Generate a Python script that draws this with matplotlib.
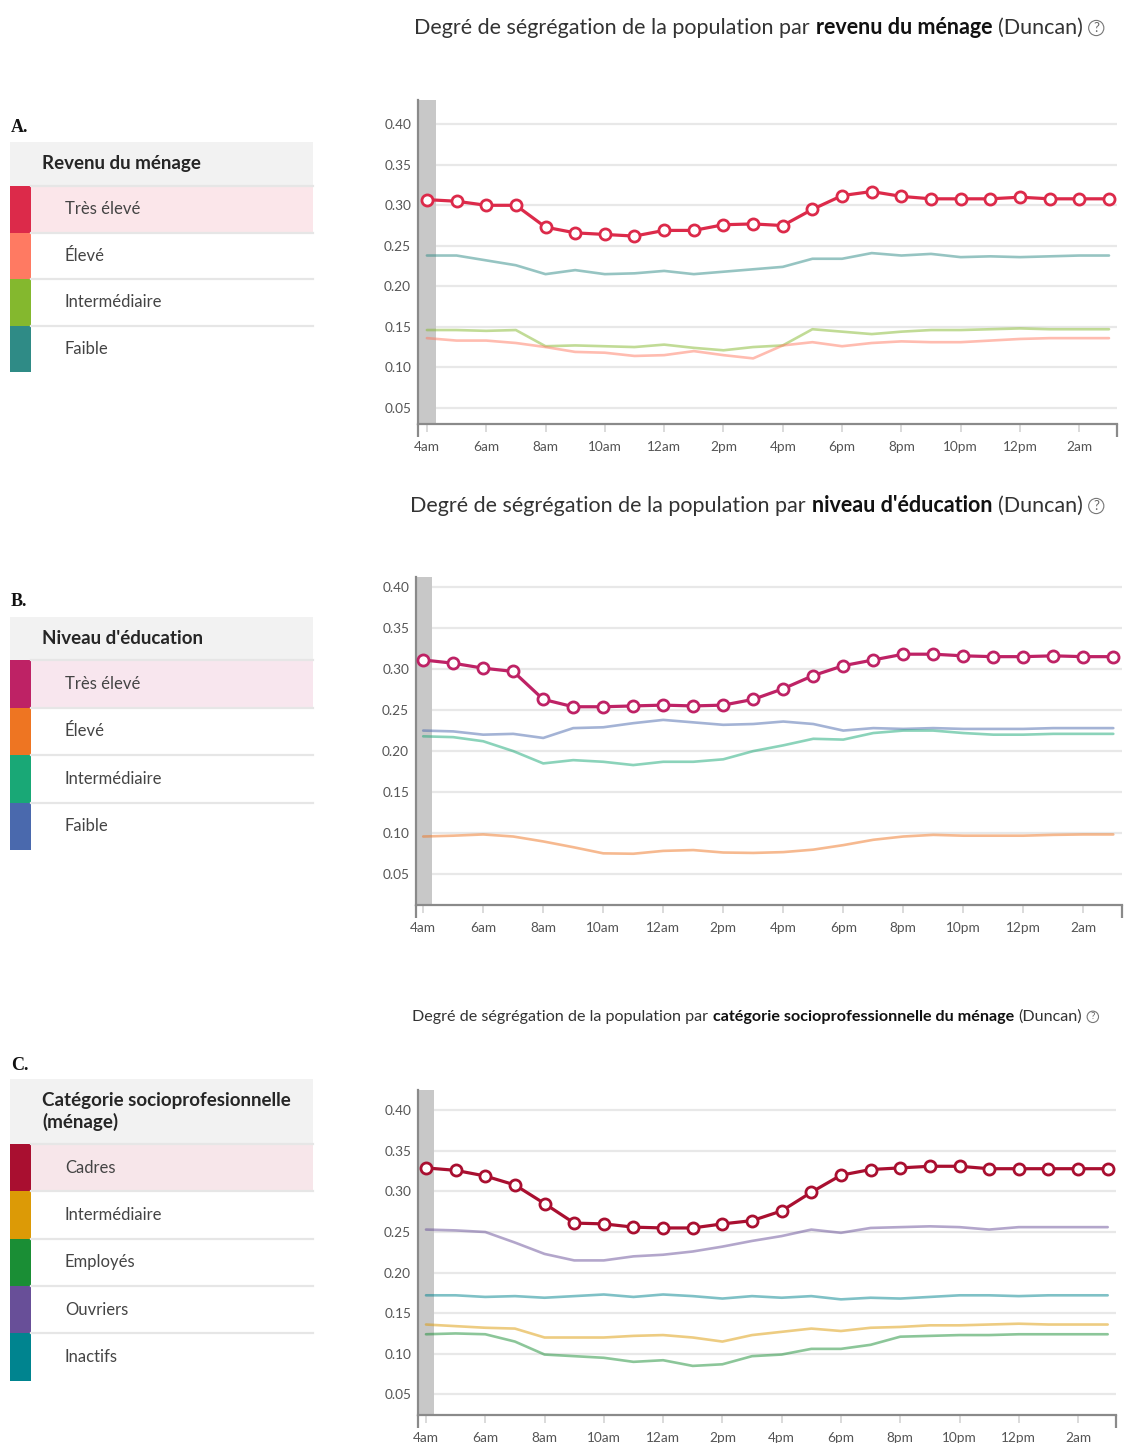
import numpy as np
import matplotlib
matplotlib.use("Agg")
import matplotlib.pyplot as plt
from matplotlib.patches import Rectangle

plt.rcParams['font.family'] = ['Lato', 'DejaVu Sans']

W, H = 1137, 1443

# Données (une valeur par heure, 4am -> 3am)
hours = np.arange(24)
tick_pos = np.arange(0, 24, 2)
tick_labels = ['4am', '6am', '8am', '10am', '12am', '2pm', '4pm', '6pm', '8pm', '10pm', '12pm', '2am']
y_ticks = [0.05, 0.10, 0.15, 0.20, 0.25, 0.30, 0.35, 0.40]

# A. Revenu du ménage
a_labels = ['Très élevé', 'Élevé', 'Intermédiaire', 'Faible']
a_colors = ['#dc2a4a', '#ff7a62', '#84b82e', '#2f8b86']
a_tres_eleve = [0.307, 0.305, 0.300, 0.300, 0.273, 0.266, 0.264, 0.262, 0.269, 0.269, 0.276, 0.277,
                0.275, 0.295, 0.312, 0.317, 0.311, 0.308, 0.308, 0.308, 0.310, 0.308, 0.308, 0.308]
a_eleve = [0.136, 0.133, 0.133, 0.130, 0.125, 0.119, 0.118, 0.114, 0.115, 0.120, 0.115, 0.111,
           0.127, 0.131, 0.126, 0.130, 0.132, 0.131, 0.131, 0.133, 0.135, 0.136, 0.136, 0.136]
a_inter = [0.146, 0.146, 0.145, 0.146, 0.126, 0.127, 0.126, 0.125, 0.128, 0.124, 0.121, 0.125,
           0.127, 0.147, 0.144, 0.141, 0.144, 0.146, 0.146, 0.147, 0.148, 0.147, 0.147, 0.147]
a_faible = [0.238, 0.238, 0.232, 0.226, 0.215, 0.220, 0.215, 0.216, 0.219, 0.215, 0.218, 0.221,
            0.224, 0.234, 0.234, 0.241, 0.238, 0.240, 0.236, 0.237, 0.236, 0.237, 0.238, 0.238]

# B. Niveau d'éducation
b_labels = ['Très élevé', 'Élevé', 'Intermédiaire', 'Faible']
b_colors = ['#be2265', '#ee7522', '#19a876', '#4a69ad']
b_tres_eleve = [0.311, 0.307, 0.301, 0.297, 0.263, 0.254, 0.254, 0.255, 0.256, 0.255, 0.256, 0.263,
                0.276, 0.292, 0.304, 0.311, 0.318, 0.318, 0.316, 0.315, 0.315, 0.316, 0.315, 0.315]
b_eleve = [0.096, 0.097, 0.0985, 0.096, 0.090, 0.083, 0.0755, 0.075, 0.0785, 0.0795, 0.0765, 0.076,
           0.077, 0.080, 0.0855, 0.092, 0.096, 0.098, 0.097, 0.097, 0.097, 0.098, 0.0985, 0.0985]
b_inter = [0.218, 0.217, 0.212, 0.200, 0.185, 0.189, 0.187, 0.183, 0.187, 0.187, 0.190, 0.200,
           0.207, 0.215, 0.214, 0.222, 0.225, 0.225, 0.222, 0.220, 0.220, 0.221, 0.221, 0.221]
b_faible = [0.225, 0.224, 0.220, 0.221, 0.216, 0.228, 0.229, 0.234, 0.238, 0.235, 0.232, 0.233,
            0.236, 0.233, 0.225, 0.228, 0.227, 0.228, 0.227, 0.227, 0.227, 0.228, 0.228, 0.228]

# C. Catégorie socioprofessionnelle
c_labels = ['Cadres', 'Intermédiaire', 'Employés', 'Ouvriers', 'Inactifs']
c_colors = ['#a90f30', '#dc9a06', '#1a8e35', '#684f98', '#00848f']
c_cadres = [0.329, 0.326, 0.319, 0.308, 0.285, 0.261, 0.260, 0.256, 0.255, 0.255, 0.260, 0.264,
            0.276, 0.299, 0.320, 0.327, 0.329, 0.331, 0.331, 0.328, 0.328, 0.328, 0.328, 0.328]
c_inter = [0.136, 0.134, 0.132, 0.131, 0.120, 0.120, 0.120, 0.122, 0.123, 0.120, 0.115, 0.123,
           0.127, 0.131, 0.128, 0.132, 0.133, 0.135, 0.135, 0.136, 0.137, 0.136, 0.136, 0.136]
c_employes = [0.124, 0.125, 0.124, 0.115, 0.099, 0.097, 0.095, 0.090, 0.092, 0.085, 0.087, 0.097,
              0.099, 0.106, 0.106, 0.111, 0.121, 0.122, 0.123, 0.123, 0.124, 0.124, 0.124, 0.124]
c_ouvriers = [0.253, 0.252, 0.250, 0.237, 0.223, 0.215, 0.215, 0.220, 0.222, 0.226, 0.232, 0.239,
              0.245, 0.253, 0.249, 0.255, 0.256, 0.257, 0.256, 0.253, 0.256, 0.256, 0.256, 0.256]
c_inactifs = [0.172, 0.172, 0.170, 0.171, 0.169, 0.171, 0.173, 0.170, 0.173, 0.171, 0.168, 0.171,
              0.169, 0.171, 0.167, 0.169, 0.168, 0.170, 0.172, 0.172, 0.171, 0.172, 0.172, 0.172]


fig = plt.figure(figsize=(W / 100, H / 100), dpi=100)
bg = fig.add_axes([0, 0, 1, 1])
bg.set_xlim(0, W)
bg.set_ylim(H, 0)
bg.axis('off')


def px_axes(left, top, right, bottom):
    return fig.add_axes([left / W, 1 - bottom / H, (right - left) / W, (bottom - top) / H])


def rich_title(x, y, parts, size):
    prev = bg.text(x, y, parts[0][0], fontsize=size, fontweight=parts[0][1],
                   color='#333333', va='center', ha='left')
    gap = 0.28 * size
    for txt, weight in parts[1:]:
        prev = bg.annotate(txt, xy=(1, 0), xycoords=prev, xytext=(gap, 0),
                           textcoords='offset points', va='bottom', ha='left',
                           fontsize=size, fontweight=weight,
                           color='#111111' if weight == 'bold' else '#333333')
    bg.annotate('?', xy=(1, 0.5), xycoords=prev, xytext=(gap + 3, 0),
                textcoords='offset points', va='center', ha='left',
                fontsize=size * 0.62, color='#666666',
                bbox=dict(boxstyle='circle,pad=0.12', fc='none', ec='#777777', lw=0.8))


def legend_table(letter, letter_y, top, header_lines, header_h, row_h, labels, colors, hl):
    bg.text(11, letter_y, letter, fontsize=13, fontweight='bold',
            family='Liberation Serif', color='#111111', va='center', ha='left')
    bg.add_patch(Rectangle((10, top), 303, header_h, fc='#f2f2f2', ec='none'))
    bg.text(42, top + header_h / 2, "\n".join(header_lines), fontsize=13.5, fontweight='bold',
            color='#262626', va='center', ha='left', linespacing=1.3)
    y0 = top + header_h
    for i, (lab, col) in enumerate(zip(labels, colors)):
        ry = y0 + i * row_h
        if i == 0:
            bg.add_patch(Rectangle((31, ry), 282, row_h, fc=hl, ec='none'))
        bg.add_patch(Rectangle((10, ry), 21, row_h, fc=col, ec='none'))
        bg.plot([31, 313], [ry, ry], color='#e6e6e6', lw=1.6)
        bg.text(65, ry + row_h / 2, lab, fontsize=12, color='#444444',
                va='center', ha='left')


def chart(rect, xlim, ylim, band_end, main, main_color, others):
    ax = px_axes(*rect)
    ax.set_xlim(*xlim)
    ax.set_ylim(*ylim)
    ax.axvspan(xlim[0], band_end, color='#c8c8c8', lw=0, zorder=1)
    for vals, col in others:
        ax.plot(hours, vals, color=col, lw=1.9, alpha=0.5, zorder=2,
                solid_joinstyle='round', solid_capstyle='round')
    ax.plot(hours, main, color=main_color, lw=2.3, zorder=3, marker='o', ms=8,
            mfc='white', mec=main_color, mew=2.0)
    ax.set_yticks(y_ticks)
    ax.set_yticklabels([f"{v:.2f}" for v in y_ticks])
    ax.set_xticks(tick_pos)
    ax.set_xticklabels(tick_labels)
    ax.set_xticks([xlim[0], xlim[1]], minor=True)
    ax.yaxis.grid(True, color='#e8e8e8', lw=1.6)
    ax.set_axisbelow(True)
    for s in ['top', 'right']:
        ax.spines[s].set_visible(False)
    for s in ['left', 'bottom']:
        ax.spines[s].set_color('#8a8a8a')
        ax.spines[s].set_linewidth(1.6)
    ax.tick_params(axis='y', length=0, pad=5, labelsize=9.8, labelcolor='#555555')
    ax.tick_params(axis='x', which='major', length=6, width=1.2, color='#d4d4d4',
                   pad=6, labelsize=9.8, labelcolor='#555555')
    ax.tick_params(axis='x', which='minor', length=9, width=1.6, color='#8a8a8a')
    return ax


# Titres
rich_title(414, 28, [('Degré de ségrégation de la population par', 'normal'),
                     ('revenu du ménage', 'bold'), ('(Duncan)', 'normal')], 15.5)
rich_title(410, 506, [('Degré de ségrégation de la population par', 'normal'),
                      ("niveau d'éducation", 'bold'), ('(Duncan)', 'normal')], 15.5)
rich_title(412, 1017, [('Degré de ségrégation de la population par', 'normal'),
                       ('catégorie socioprofessionnelle du ménage', 'bold'),
                       ('(Duncan)', 'normal')], 11.6)

# Tableaux de légende
legend_table('A.', 127, 142, ['Revenu du ménage'], 44, 46.5, a_labels, a_colors, '#fbe6ea')
legend_table('B.', 602, 617, ["Niveau d'éducation"], 43, 47.5, b_labels, b_colors, '#f8e6ee')
legend_table('C.', 1065, 1079, ['Catégorie socioprofesionnelle', '(ménage)'], 65, 47.3,
             c_labels, c_colors, '#f7e6ea')

# Graphiques
chart((418, 100, 1117, 424), (-0.30, 23.27), (0.030, 0.43), 0.30,
      a_tres_eleve, a_colors[0],
      [(a_faible, a_colors[3]), (a_inter, a_colors[2]), (a_eleve, a_colors[1])])
chart((416, 577, 1122, 905), (-0.24, 23.29), (0.0126, 0.412), 0.29,
      b_tres_eleve, b_colors[0],
      [(b_faible, b_colors[3]), (b_inter, b_colors[2]), (b_eleve, b_colors[1])])
chart((418, 1090, 1116, 1415), (-0.27, 23.28), (0.0245, 0.425), 0.27,
      c_cadres, c_colors[0],
      [(c_ouvriers, c_colors[3]), (c_inactifs, c_colors[4]),
       (c_inter, c_colors[1]), (c_employes, c_colors[2])])

fig.savefig('out.png', dpi=100)
